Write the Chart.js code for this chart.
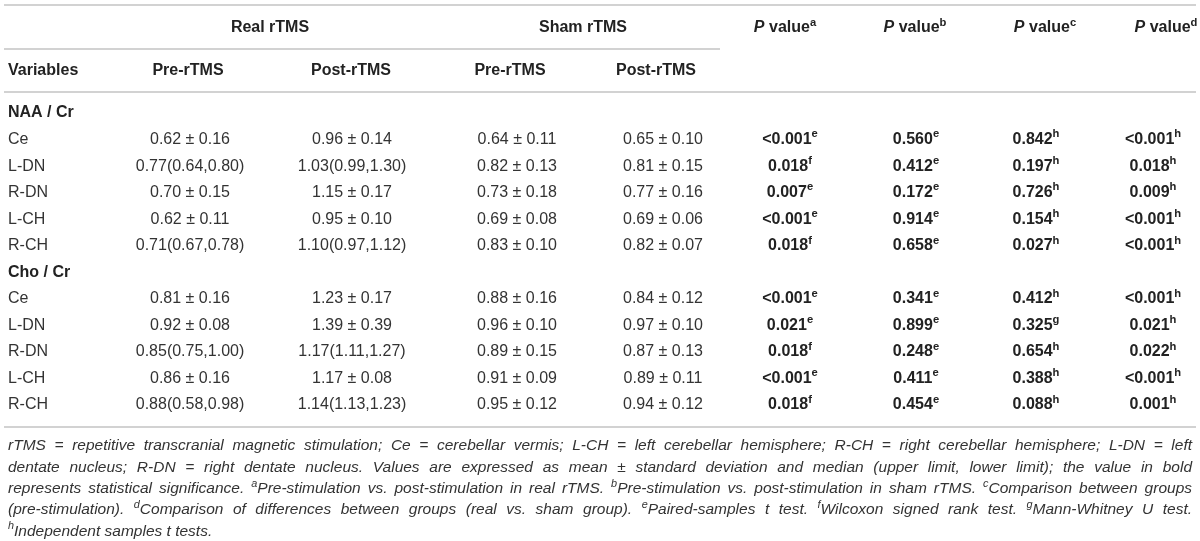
<!DOCTYPE html>
<html>
<head>
<meta charset="utf-8">
<script src="https://cdn.jsdelivr.net/npm/chart.js@4.4.1/dist/chart.umd.min.js"></script>
<style>
  html, body { margin: 0; padding: 0; background: #fff; }
</style>
</head>
<body>
<canvas id="table" width="1200" height="541"></canvas>
<script>
// ---- table content ----
const groups = ['Real rTMS', 'Sham rTMS'];
const phases = ['Pre-rTMS', 'Post-rTMS', 'Pre-rTMS', 'Post-rTMS'];
const pHeaders = ['~P~ value^a', '~P~ value^b', '~P~ value^c', '~P~ value^d'];
const sections = ['NAA / Cr', 'Cho / Cr'];
const regions = ['Ce', 'L-DN', 'R-DN', 'L-CH', 'R-CH'];

const naaRealPre = ['0.62 ± 0.16', '0.77(0.64,0.80)', '0.70 ± 0.15', '0.62 ± 0.11', '0.71(0.67,0.78)'];
const naaRealPost = ['0.96 ± 0.14', '1.03(0.99,1.30)', '1.15 ± 0.17', '0.95 ± 0.10', '1.10(0.97,1.12)'];
const naaShamPre = ['0.64 ± 0.11', '0.82 ± 0.13', '0.73 ± 0.18', '0.69 ± 0.08', '0.83 ± 0.10'];
const naaShamPost = ['0.65 ± 0.10', '0.81 ± 0.15', '0.77 ± 0.16', '0.69 ± 0.06', '0.82 ± 0.07'];
const naaPa = ['<0.001^e', '0.018^f', '0.007^e', '<0.001^e', '0.018^f'];
const naaPb = ['0.560^e', '0.412^e', '0.172^e', '0.914^e', '0.658^e'];
const naaPc = ['0.842^h', '0.197^h', '0.726^h', '0.154^h', '0.027^h'];
const naaPd = ['<0.001^h', '0.018^h', '0.009^h', '<0.001^h', '<0.001^h'];

const choRealPre = ['0.81 ± 0.16', '0.92 ± 0.08', '0.85(0.75,1.00)', '0.86 ± 0.16', '0.88(0.58,0.98)'];
const choRealPost = ['1.23 ± 0.17', '1.39 ± 0.39', '1.17(1.11,1.27)', '1.17 ± 0.08', '1.14(1.13,1.23)'];
const choShamPre = ['0.88 ± 0.16', '0.96 ± 0.10', '0.89 ± 0.15', '0.91 ± 0.09', '0.95 ± 0.12'];
const choShamPost = ['0.84 ± 0.12', '0.97 ± 0.10', '0.87 ± 0.13', '0.89 ± 0.11', '0.94 ± 0.12'];
const choPa = ['<0.001^e', '0.021^e', '0.018^f', '<0.001^e', '0.018^f'];
const choPb = ['0.341^e', '0.899^e', '0.248^e', '0.411^e', '0.454^e'];
const choPc = ['0.412^h', '0.325^g', '0.654^h', '0.388^h', '0.088^h'];
const choPd = ['<0.001^h', '0.021^h', '0.022^h', '<0.001^h', '0.001^h'];

const footnotes = [
  'rTMS = repetitive transcranial magnetic stimulation; Ce = cerebellar vermis; L-CH = left cerebellar hemisphere; R-CH = right cerebellar hemisphere; L-DN = left',
  'dentate nucleus; R-DN = right dentate nucleus. Values are expressed as mean ± standard deviation and median (upper limit, lower limit); the value in bold',
  'represents statistical significance. ^aPre-stimulation vs. post-stimulation in real rTMS. ^bPre-stimulation vs. post-stimulation in sham rTMS. ^cComparison between groups',
  '(pre-stimulation). ^dComparison of differences between groups (real vs. sham group). ^ePaired-samples t test. ^fWilcoxon signed rank test. ^gMann-Whitney U test.',
  '^hIndependent samples t tests.'
];

// ---- layout (table units = pixels of the 1200x541 frame) ----
const FONT = '"Liberation Sans", Arial, Helvetica, sans-serif';
const LEFT = 8;
const RIGHT = 1192;
const GROUP_X = [270, 583];
const PHASE_X = [188, 351, 510, 656];
const PHEAD_X = [785, 915, 1045, 1166];
const VALUE_X = [190, 352, 517, 663, 790, 916, 1036, 1153];
const HEAD1_Y = 28;
const HEAD2_Y = 71;
const BODY_Y = 113;
const ROW_H = 26.55;
const NOTE_Y = 446;
const NOTE_H = 21.3;
const RULES = [
  { y: 5, x0: 4, x1: 1196 },
  { y: 49, x0: 4, x1: 720 },
  { y: 92, x0: 4, x1: 1196 },
  { y: 427, x0: 4, x1: 1196 }
];

const regular = { size: 16, weight: 'normal', color: '#333', align: 'center' };
const bold = { size: 16, weight: 'bold', color: '#222', align: 'center' };
const noteStyle = { size: 15.5, weight: 'normal', italic: true, color: '#333', align: 'justify' };

// build cell datasets
const rowY = (i) => BODY_Y + i * ROW_H;
const cellSets = [];
function addCells(texts, xs, ys, style) {
  cellSets.push({
    type: 'scatter',
    data: texts.map((t, i) => ({ x: xs[i], y: ys[i] })),
    cells: texts,
    cellStyle: style,
    pointRadius: 0,
    pointHoverRadius: 0
  });
}

addCells(groups, GROUP_X, groups.map(() => HEAD1_Y), bold);
addCells(pHeaders, PHEAD_X, pHeaders.map(() => HEAD1_Y), bold);
addCells(['Variables'], [LEFT], [HEAD2_Y], { ...bold, align: 'left' });
addCells(phases, PHASE_X, phases.map(() => HEAD2_Y), bold);

const blocks = [
  [naaRealPre, naaRealPost, naaShamPre, naaShamPost, naaPa, naaPb, naaPc, naaPd],
  [choRealPre, choRealPost, choShamPre, choShamPost, choPa, choPb, choPc, choPd]
];
blocks.forEach((cols, b) => {
  const start = b * (regions.length + 1);
  addCells([sections[b]], [LEFT], [rowY(start)], { ...bold, align: 'left' });
  const ys = regions.map((_, r) => rowY(start + 1 + r));
  addCells(regions, regions.map(() => LEFT), ys, { ...regular, align: 'left' });
  cols.forEach((col, c) => {
    addCells(col, col.map(() => VALUE_X[c]), ys, c < 4 ? regular : bold);
  });
});

footnotes.forEach((line, i) => {
  const last = i === footnotes.length - 1;
  addCells([line], [LEFT], [NOTE_Y + i * NOTE_H], { ...noteStyle, align: last ? 'left' : 'justify' });
});

const ruleSets = RULES.map((r) => ({
  type: 'scatter',
  data: [{ x: r.x0, y: r.y }, { x: r.x1, y: r.y }],
  showLine: true,
  borderColor: '#d2d2d2',
  borderWidth: 2,
  pointRadius: 0,
  pointHoverRadius: 0
}));

// ---- rich text helpers: ~ toggles italic, ^x is a superscript ----
function parseRich(text, italic) {
  const runs = [];
  let buf = '';
  const flush = () => { if (buf) runs.push({ t: buf, sup: false, it: italic }); buf = ''; };
  for (let i = 0; i < text.length; i++) {
    const ch = text[i];
    if (ch === '~') { flush(); italic = !italic; }
    else if (ch === '^') { flush(); runs.push({ t: text[i + 1], sup: true, it: italic }); i++; }
    else buf += ch;
  }
  flush();
  return runs;
}

function fontOf(run, st) {
  const size = run.sup ? st.size * 0.7 : st.size;
  return (run.it ? 'italic ' : '') + st.weight + ' ' + size + 'px ' + FONT;
}

function runsWidth(ctx, runs, st) {
  let w = 0;
  runs.forEach((r) => { ctx.font = fontOf(r, st); w += ctx.measureText(r.t).width; });
  return w;
}

function drawRuns(ctx, runs, x, y, st) {
  let cx = x;
  runs.forEach((r) => {
    ctx.font = fontOf(r, st);
    ctx.fillText(r.t, cx, r.sup ? y - st.size * 0.33 : y);
    cx += ctx.measureText(r.t).width;
  });
}

const cellText = {
  id: 'cellText',
  afterDatasetsDraw(chart) {
    const ctx = chart.ctx;
    const xScale = chart.scales.x;
    ctx.save();
    ctx.textBaseline = 'middle';
    ctx.textAlign = 'left';
    chart.data.datasets.forEach((ds, di) => {
      if (!ds.cells) return;
      const st = ds.cellStyle;
      ctx.fillStyle = st.color;
      chart.getDatasetMeta(di).data.forEach((pt, i) => {
        const text = ds.cells[i];
        if (st.align === 'justify') {
          const words = text.split(' ').map((w) => parseRich(w, !!st.italic));
          const span = xScale.getPixelForValue(RIGHT) - pt.x;
          // shrink the line slightly if it would not fit the measure
          let fit = { ...st };
          let widths = words.map((w) => runsWidth(ctx, w, fit));
          let total = widths.reduce((a, b) => a + b, 0);
          while (total + (words.length - 1) * fit.size * 0.2 > span && fit.size > 10) {
            fit = { ...fit, size: fit.size - 0.25 };
            widths = words.map((w) => runsWidth(ctx, w, fit));
            total = widths.reduce((a, b) => a + b, 0);
          }
          const gap = (span - total) / (words.length - 1);
          let cx = pt.x;
          words.forEach((w, k) => { drawRuns(ctx, w, cx, pt.y, fit); cx += widths[k] + gap; });
          return;
        }
        const runs = parseRich(text, !!st.italic);
        const w = runsWidth(ctx, runs, st);
        const x0 = st.align === 'center' ? pt.x - w / 2 : pt.x;
        drawRuns(ctx, runs, x0, pt.y, st);
      });
    });
    ctx.restore();
  }
};

new Chart(document.getElementById('table'), {
  type: 'scatter',
  data: { datasets: [...ruleSets, ...cellSets] },
  options: {
    responsive: false,
    animation: false,
    events: [],
    layout: { padding: 0 },
    plugins: { legend: { display: false }, tooltip: { enabled: false } },
    scales: {
      x: { type: 'linear', min: 0, max: 1200, display: false },
      y: { type: 'linear', min: 0, max: 541, reverse: true, display: false }
    }
  },
  plugins: [cellText]
});
</script>
</body>
</html>
